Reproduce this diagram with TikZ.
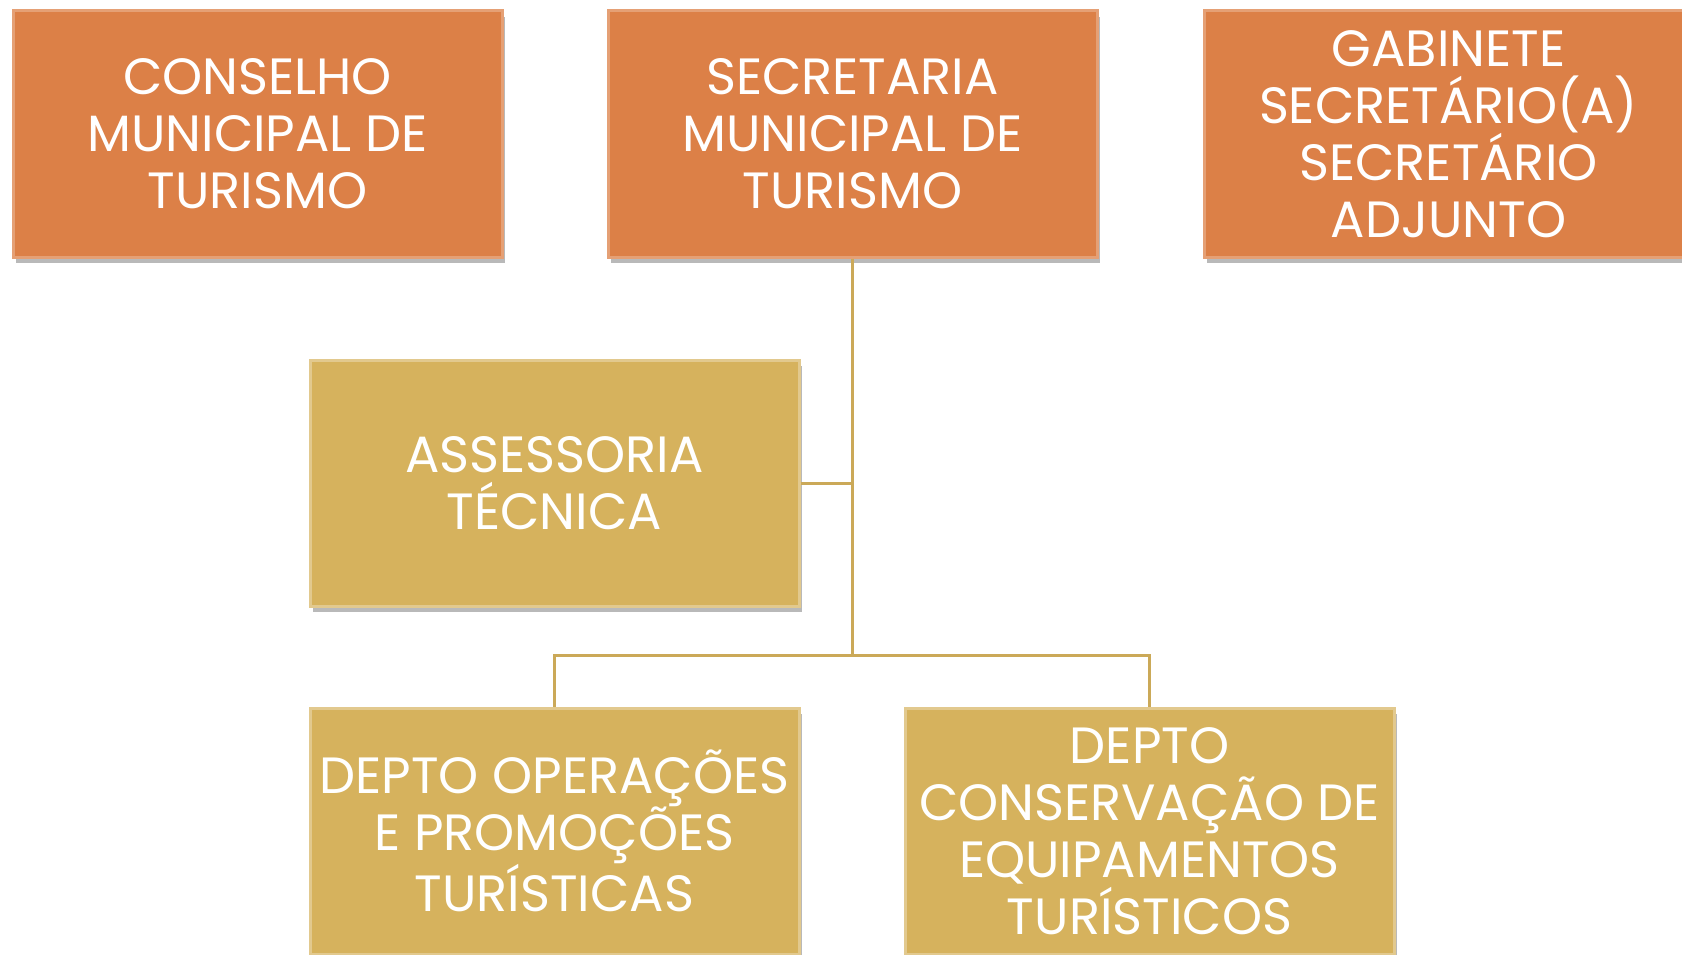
\documentclass[tikz,border=0pt]{standalone}
\usepackage{fontspec}
\setmainfont{Poppins}
\usepackage{tikz}
\usetikzlibrary{shadows}
\definecolor{BoxOrange}{RGB}{220,128,71}
\definecolor{BoxGold}{RGB}{214,178,93}
\colorlet{LinkGold}{BoxGold!95!black}
\tikzset{
    orgbox/.style={minimum width=489pt, minimum height=246pt, inner sep=2pt, align=center,
        text=white, font=\fontsize{51}{57}\selectfont,
        drop shadow={shadow xshift=3pt, shadow yshift=-6pt, opacity=0.55, fill=gray}},
    topbox/.style={orgbox, fill=BoxOrange, draw=BoxOrange!75!white, line width=3pt},
    subbox/.style={orgbox, fill=BoxGold, draw=BoxGold!70!white, line width=3pt},
    link/.style={LinkGold, line width=3pt}
}

\begin{document}
\begin{tikzpicture}[x=1pt, y=-1pt]
                    \useasboundingbox (0,0) rectangle (1682,955);
                    \clip (0,0) rectangle (1682,955);
%                    top row
                    \node[topbox] (conselho) at (257.5,134) {CONSELHO\\MUNICIPAL DE\\TURISMO};
                    \node[topbox] (secretaria) at (852.5,134) {SECRETARIA\\MUNICIPAL DE\\TURISMO};
                    \node[topbox] (gabinete) at (1448.5,134) {GABINETE\\SECRETÁRIO(A)\\SECRETÁRIO\\ADJUNTO};
%                    lower levels
                    \node[subbox] (assessoria) at (554.5,483) {ASSESSORIA\\TÉCNICA};
                    \node[subbox] (operacoes) at (554.5,831) {DEPTO OPERAÇÕES\\E PROMOÇÕES\\TURÍSTICAS};
                    \node[subbox] (conservacao) at (1149.5,831) {DEPTO\\CONSERVAÇÃO DE\\EQUIPAMENTOS\\TURÍSTICOS};

                    \coordinate (bus) at (secretaria.south |- 0,655);
                    \draw[link] (secretaria.south) -- (bus);
                    \draw[link] (assessoria.east) -- (assessoria.east -| secretaria.south);
                    \draw[link] (operacoes.north) -- (operacoes.north |- bus) -- (conservacao.north |- bus) -- (conservacao.north);

                \end{tikzpicture}
\end{document}
